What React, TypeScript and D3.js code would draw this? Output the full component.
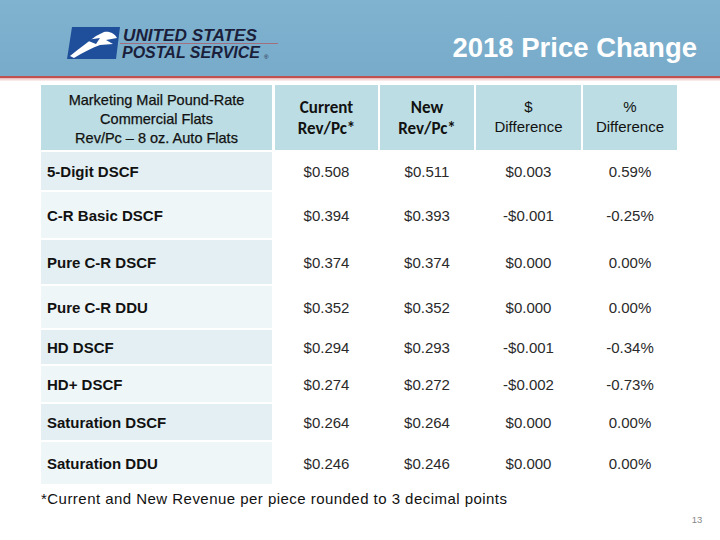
import React from "react";
import * as d3 from "d3";

const categories = [
  "5-Digit DSCF",
  "C-R Basic DSCF",
  "Pure C-R DSCF",
  "Pure C-R DDU",
  "HD DSCF",
  "HD+ DSCF",
  "Saturation DSCF",
  "Saturation DDU",
];
const currentRev = [0.508, 0.394, 0.374, 0.352, 0.294, 0.274, 0.264, 0.246];
const newRev = [0.511, 0.393, 0.374, 0.352, 0.293, 0.272, 0.264, 0.246];
const dollarDiff = [0.003, -0.001, 0.0, 0.0, -0.001, -0.002, 0.0, 0.0];
const pctDiff = [0.59, -0.25, 0.0, 0.0, -0.34, -0.73, 0.0, 0.0];

const title = "2018 Price Change";
const headerLabel = ["Marketing Mail Pound-Rate", "Commercial Flats", "Rev/Pc \u2013 8 oz. Auto Flats"];
const colHeaders = [
  ["Current", "Rev/Pc*"],
  ["New", "Rev/Pc*"],
  ["$", "Difference"],
  ["%", "Difference"],
];
const footnote = "*Current and New Revenue per piece rounded to 3 decimal points";
const pageNumber = "13";

// layout
const rowHeights = [38, 46, 44, 42, 34, 36, 36, 42];
const ROW_TOP = 152;
const GAP = 2;
const colEdges = [41, 272, 275, 378, 380, 474, 476, 581, 583, 677];

export default function App() {
  const W = 720,
    H = 540;
  const rowTops: number[] = [];
  let acc = ROW_TOP;
  rowHeights.forEach((h) => {
    rowTops.push(acc);
    acc += h + GAP;
  });
  const yTop = d3.scaleOrdinal<string, number>().domain(categories).range(rowTops);
  const yH = d3.scaleOrdinal<string, number>().domain(categories).range(rowHeights);

  const f3 = d3.format(".3f");
  const f2 = d3.format(".2f");
  const fmtD = (v: number) => (v < 0 ? "-$" : "$") + f3(Math.abs(v));
  const fmtP = (v: number) => (v < 0 ? "-" : "") + f2(Math.abs(v)) + "%";

  const cols = [
    { x0: colEdges[2], x1: colEdges[3], vals: currentRev.map(fmtD) },
    { x0: colEdges[4], x1: colEdges[5], vals: newRev.map(fmtD) },
    { x0: colEdges[6], x1: colEdges[7], vals: dollarDiff.map(fmtD) },
    { x0: colEdges[8], x1: colEdges[9], vals: pctDiff.map(fmtP) },
  ];

  const hdrFill = "#bcdde3";
  return (
    <svg
      width={W}
      height={H}
      style={{ position: "absolute", left: 0, top: 0, background: "#fff" }}
      fontFamily="Arial, 'Liberation Sans', sans-serif"
    >
      <defs>
        <linearGradient id="band" x1="0" y1="0" x2="0" y2="1">
          <stop offset="0" stopColor="#7fb3d0" />
          <stop offset="1" stopColor="#78abc9" />
        </linearGradient>
      </defs>
      <rect x={0} y={0} width={W} height={76} fill="url(#band)" />
      <rect x={0} y={76} width={W} height={2.5} fill="#c0504d" />
      <rect x={0} y={78.5} width={W} height={2} fill="#f3d6d6" />

      {/* logo */}
      <g>
        <path d="M72,27 L120,27 L116,59 L67,59 Z" fill="#1f4e9a" />
        <path
          d="M70,56 C80,48 88,42 96,36 L104,32 C110,31 115,34 117,38 L106,40 L113,44 L100,45 C92,48 82,53 74,58 Z"
          fill="#ffffff"
        />
        <path d="M86,40 L100,38 L96,44 Z" fill="#1f4e9a" />
        <text x={123} y={41} fontSize={16} fontWeight="bold" fontStyle="italic" fill="#1b1f3b" textLength={134} lengthAdjust="spacingAndGlyphs">
          UNITED STATES
        </text>
        <rect x={120} y={43} width={158} height={0.8} fill="#b0606a" />
        <text x={122} y={58} fontSize={16} fontWeight="bold" fontStyle="italic" fill="#1b1f3b" textLength={138} lengthAdjust="spacingAndGlyphs">
          POSTAL SERVICE
        </text>
        <text x={264} y={59} fontSize={6} fill="#1b1f3b">®</text>
      </g>
      <text x={697} y={57} textAnchor="end" fontSize={27.5} fontWeight="bold" fill="#ffffff">
        {title}
      </text>

      {/* header row */}
      <rect x={colEdges[0]} y={85} width={colEdges[1] - colEdges[0]} height={65} fill={hdrFill} />
      {headerLabel.map((t, i) => (
        <text key={t} x={(colEdges[0] + colEdges[1]) / 2} y={105 + i * 19} textAnchor="middle" fontSize={14.5} fill="#111" stroke="#111" strokeWidth={0.25}>
          {t}
        </text>
      ))}
      {cols.map((c, ci) => (
        <g key={ci}>
          <rect x={c.x0} y={85} width={c.x1 - c.x0} height={65} fill={hdrFill} />
          {colHeaders[ci].map((t, li) =>
            ci < 2 ? (
              <text key={li} x={(c.x0 + c.x1) / 2} y={113 + li * 21} textAnchor="middle" fontSize={17} fontWeight="bold" fontFamily="Carlito, Lato, sans-serif" fill="#111">
                {t}
              </text>
            ) : (
              <text key={li} x={(c.x0 + c.x1) / 2} y={112 + li * 20} textAnchor="middle" fontSize={15} fill="#111">
                {t}
              </text>
            )
          )}
        </g>
      ))}

      {/* body */}
      {categories.map((cat, i) => {
        const y0 = yTop(cat);
        const h = yH(cat);
        const cy = y0 + h / 2;
        return (
          <g key={cat}>
            <rect x={colEdges[0]} y={y0} width={colEdges[1] - colEdges[0]} height={h} fill={i % 2 === 0 ? "#e3eff2" : "#eff6f8"} />
            <text x={47} y={cy + 5.5} fontSize={15} fontWeight="bold" fill="#111">
              {cat}
            </text>
            {cols.map((c, ci) => (
              <text key={ci} x={(c.x0 + c.x1) / 2} y={cy + 5.5} textAnchor="middle" fontSize={15} fill="#2a2a2a">
                {c.vals[i]}
              </text>
            ))}
          </g>
        );
      })}

      <text x={41} y={504} fontSize={15} fill="#111" textLength={466} lengthAdjust="spacing">
        {footnote}
      </text>
      <text x={697} y={523} textAnchor="middle" fontSize={9.5} fill="#888">
        {pageNumber}
      </text>
    </svg>
  );
}
